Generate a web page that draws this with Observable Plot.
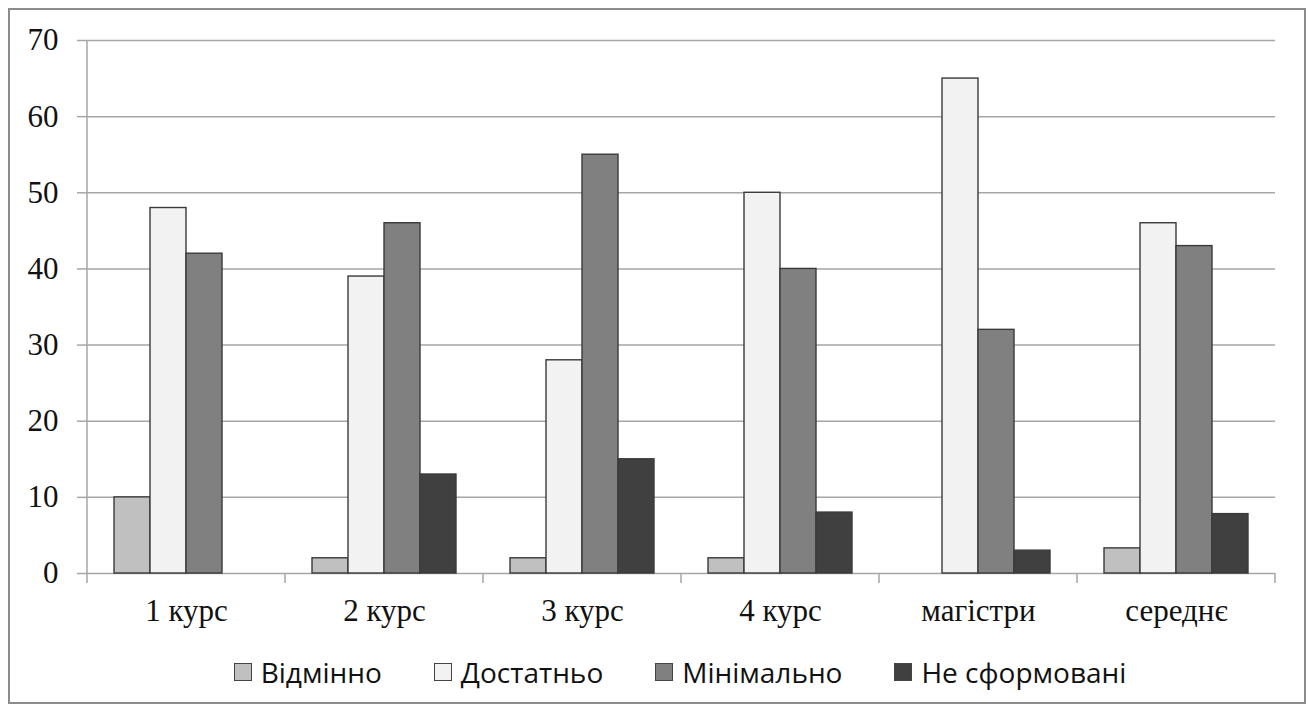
<!DOCTYPE html>
<html>
<head>
<meta charset="utf-8">
<script src="https://cdn.jsdelivr.net/npm/d3@7"></script>
<script src="https://cdn.jsdelivr.net/npm/@observablehq/plot@0.6"></script>
<style>
  html, body { margin: 0; padding: 0; background: #fff; }
  #frame {
    position: absolute; left: 8px; top: 8px;
    width: 1298px; height: 696px; box-sizing: border-box;
    border: 2px solid #8c8c8c; background: #fff;
  }
  #chart svg text { font-family: "Liberation Serif", "Times New Roman", serif; }
  #legend {
    position: absolute; left: 0; top: 643px; width: 1340px;
    display: flex; justify-content: center; gap: 52px;
    font-family: "Open Sans", "Liberation Sans", sans-serif; font-size: 28px; color: #111;
  }
  .item { display: flex; align-items: center; }
  .sw { width: 16px; height: 16px; border: 1.5px solid #444; margin-right: 9px; }
</style>
</head>
<body>
<div id="frame"><div id="chart"></div><div id="legend"></div></div>
<script>
const courses = ["1 курс", "2 курс", "3 курс", "4 курс", "магістри", "середнє"];
const categories = ["Відмінно", "Достатньо", "Мінімально", "Не сформовані"];
const vidminno   = [10, 2, 2, 2, 0, 3.3];
const dostatno   = [48, 39, 28, 50, 65, 46];
const minimalno  = [42, 46, 55, 40, 32, 43];
const neSformovani = [0, 13, 15, 8, 3, 7.8];
const yTicks = [0, 10, 20, 30, 40, 50, 60, 70];
const colors = ["#c0c0c0", "#f2f2f2", "#808080", "#404040"];

const series = [vidminno, dostatno, minimalno, neSformovani];
const data = [];
courses.forEach((c, i) => categories.forEach((k, j) => {
  data.push({course: c, cat: k, value: series[j][i]});
}));

const serif = "'Liberation Serif', 'Times New Roman', serif";
const W = 1294, H = 628;
const plot = Plot.plot({
  width: W, height: H,
  marginLeft: 76, marginRight: 29, marginTop: 30, marginBottom: 65,
  style: {background: "transparent", overflow: "visible", fontFamily: serif},
  fx: {domain: courses, padding: 0, label: null},
  x: {domain: categories, paddingInner: 0, paddingOuter: 0.73, axis: null},
  y: {domain: [0, 70], label: null},
  color: {domain: categories, range: colors},
  marks: [
    Plot.gridY(yTicks, {stroke: "#a6a6a6", strokeOpacity: 1, strokeWidth: 1.5}),
    Plot.barY(data.filter(d => d.value > 0), {
      fx: "course", x: "cat", y: "value", fill: "cat",
      stroke: "#3a3a3a", strokeWidth: 1.4
    }),
    Plot.axisY(yTicks, {
      tickSize: 10, tickPadding: 19, stroke: "#a6a6a6", strokeWidth: 1.5,
      fontSize: 31, fontFamily: serif, fill: "#111", label: null
    }),
    Plot.axisFx({
      anchor: "bottom", tickSize: 0, tickPadding: 25,
      fontSize: 31, fontFamily: serif, fill: "#111", label: null
    })
  ]
});
document.getElementById("chart").appendChild(plot);

// axis line and group-boundary ticks, placed from Plot's own scales
const fx = plot.scale("fx"), y = plot.scale("y");
const svg = d3.select(plot);
const edges = courses.map(c => fx.apply(c)).concat([fx.apply(courses[courses.length - 1]) + fx.bandwidth]);
svg.append("g").attr("stroke", "#a6a6a6").attr("stroke-width", 1.5)
  .selectAll("line").data(edges).join("line")
  .attr("x1", d => d).attr("x2", d => d)
  .attr("y1", (d, i) => i === 0 ? y.apply(70) : y.apply(0))
  .attr("y2", y.apply(0) + 10);

// legend
const leg = d3.select("#legend");
categories.forEach((k, i) => {
  const it = leg.append("div").attr("class", "item");
  it.append("div").attr("class", "sw").style("background", colors[i]);
  it.append("span").text(k);
});
</script>
</body>
</html>
